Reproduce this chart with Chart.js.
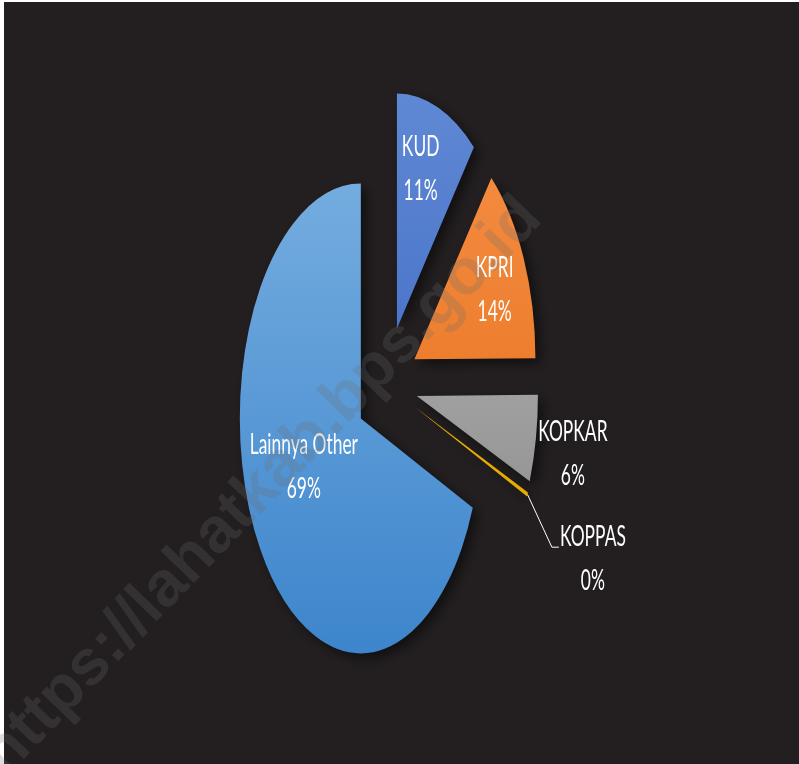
<!DOCTYPE html>
<html>
<head>
<meta charset="utf-8">
<script src="https://cdn.jsdelivr.net/npm/chart.js@4.4.1/dist/chart.umd.min.js"></script>
<style>
html,body{margin:0;padding:0;background:#ffffff;overflow:hidden;}
canvas{display:block;}
</style>
</head>
<body>
<canvas id="c" width="799" height="764"></canvas>
<script>
// ---- data ----
const categories = ['KUD', 'KPRI', 'KOPKAR', 'KOPPAS', 'Lainnya Other'];
const shares = [11, 14, 6, 0.3, 69];
// ---- colours (top / bottom of each slice gradient) ----
const topColors = ['#5f88d4', '#f58e44', '#b8b8b8', '#ffc000', '#74acdf'];
const bottomColors = ['#3964c0', '#e56e18', '#878787', '#d9a200', '#3d85cc'];
// ---- label layout: [angle from top in degrees, distance as fraction of radius], leader flag ----
const labelAngles = [17, 69, 102.5, 115, 242.7];
const labelRadii = [0.67, 0.71, 1.32, 1.62, 0.53];
const labelLeader = [false, false, false, true, false];

const SX = 0.515;        // horizontal squash of the pie
const R = 235;           // pie radius (px)
const EXPLODE = 60;      // explode distance (px)
const TEXT_SX = 0.6;     // horizontal condensing of label text
const BG = '#231f20';

const total = shares.reduce((a, b) => a + b, 0);
function midTheta(i) { // clockwise from top, radians
  let cum = 0;
  for (let k = 0; k < i; k++) cum += shares[k];
  return (cum + shares[i] / 2) / total * 2 * Math.PI;
}

function sliceGradient(context) {
  const chart = context.chart;
  const i = context.dataIndex;
  const area = chart.chartArea;
  if (!area) return topColors[i];
  const cy = (area.top + area.bottom) / 2;
  const vy = cy - Math.cos(midTheta(i)) * EXPLODE;
  const g = chart.ctx.createLinearGradient(0, vy - R, 0, vy + R);
  g.addColorStop(0, topColors[i]);
  g.addColorStop(1, bottomColors[i]);
  return g;
}

const piePlugin = {
  id: 'pie3d',
  beforeDraw(chart) {
    const ctx = chart.ctx;
    ctx.save();
    ctx.fillStyle = '#ffffff';
    ctx.fillRect(0, 0, chart.width, chart.height);
    ctx.fillStyle = BG;
    ctx.fillRect(4, 2, chart.width - 4, chart.height - 2);
    ctx.restore();
  },
  afterDatasetsUpdate(chart) {
    const area = chart.chartArea;
    const cx = (area.left + area.right) / 2;
    const cy = (area.top + area.bottom) / 2;
    chart.getDatasetMeta(0).data.forEach((el) => {
      const mid = (el.startAngle + el.endAngle) / 2;
      el.x = cx + Math.cos(mid) * EXPLODE;
      el.y = cy + Math.sin(mid) * EXPLODE;
    });
  },
  beforeDatasetsDraw(chart) {
    const ctx = chart.ctx;
    const area = chart.chartArea;
    const cx = (area.left + area.right) / 2;
    ctx.save();
    ctx.translate(cx, 0);
    ctx.scale(SX, 1);
    ctx.translate(-cx, 0);
    ctx.shadowColor = 'rgba(0,0,0,0.55)';
    ctx.shadowBlur = 12;
    ctx.shadowOffsetX = 5;
    ctx.shadowOffsetY = 5;
  },
  afterDatasetsDraw(chart) {
    const ctx = chart.ctx;
    ctx.restore();
    const area = chart.chartArea;
    const cx = (area.left + area.right) / 2;
    const meta = chart.getDatasetMeta(0);
    ctx.save();
    ctx.fillStyle = '#ffffff';
    ctx.textAlign = 'center';
    ctx.textBaseline = 'alphabetic';
    ctx.font = '29px Lato, "Open Sans", sans-serif';
    meta.data.forEach((el, i) => {
      const vx = cx + (el.x - cx) * SX;
      const vy = el.y;
      const th = labelAngles[i] * Math.PI / 180;
      const d = labelRadii[i] * R;
      const lx = vx + Math.sin(th) * d * SX;
      const ly = vy - Math.cos(th) * d;
      const pct = Math.round(shares[i] / total * 100) + '%';
      [categories[i], pct].forEach((t, j) => {
        ctx.save();
        ctx.translate(lx, ly - 22 + j * 44);
        ctx.scale(TEXT_SX, 1);
        ctx.fillText(t, 0, 0);
        ctx.restore();
      });
      if (labelLeader[i]) {
        const mt = midTheta(i);
        const ex = vx + Math.sin(mt) * R * SX;
        const ey = vy - Math.cos(mt) * R;
        ctx.strokeStyle = '#ffffff';
        ctx.lineWidth = 1;
        ctx.beginPath();
        ctx.moveTo(ex, ey);
        ctx.lineTo(lx - 41, ly - 21);
        ctx.lineTo(lx - 34, ly - 21);
        ctx.stroke();
      }
    });
    ctx.restore();
  },
  afterDraw(chart) {
    const ctx = chart.ctx;
    ctx.save();
    ctx.translate(262, 487);
    ctx.rotate(-46 * Math.PI / 180);
    ctx.font = 'bold 64px "Liberation Sans", Arial, sans-serif';
    ctx.textAlign = 'center';
    ctx.textBaseline = 'middle';
    ctx.fillStyle = 'rgba(107,107,107,0.24)';
    ctx.fillText('https://lahatkab.bps.go.id', 0, 0);
    ctx.restore();
  }
};

new Chart(document.getElementById('c'), {
  type: 'pie',
  data: {
    labels: categories,
    datasets: [{
      data: shares,
      backgroundColor: sliceGradient,
      borderWidth: 0,
      radius: R
    }]
  },
  options: {
    responsive: false,
    devicePixelRatio: 1,
    animation: false,
    layout: { padding: { left: 0, right: 26, top: 6, bottom: 0 } },
    plugins: { legend: { display: false }, tooltip: { enabled: false } },
    events: []
  },
  plugins: [piePlugin]
});
</script>
</body>
</html>
